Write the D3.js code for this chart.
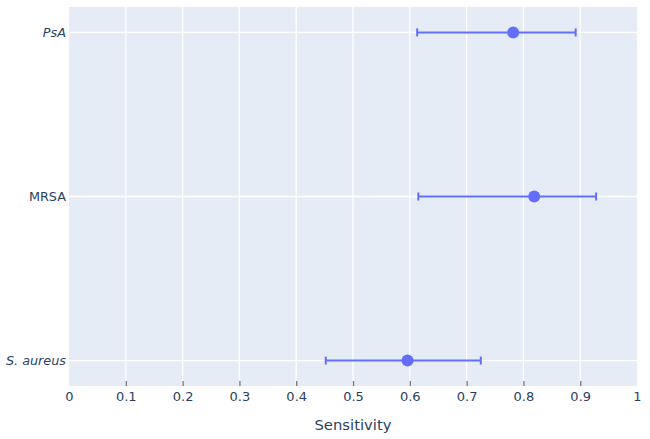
<!DOCTYPE html>
<html>
<head>
<meta charset="utf-8">
<script src="https://cdn.jsdelivr.net/npm/d3@7"></script>
<style>
  html, body { margin: 0; padding: 0; background: #fff; }
  svg { display: block; }
  text { font-family: "DejaVu Sans", sans-serif; }
</style>
</head>
<body>
<svg id="chart" width="650" height="439"></svg>
<script>
// Data
const categories = ["S. aureus", "MRSA", "PsA"];
const italicCats = ["S. aureus", "PsA"];
const sensitivity = [0.596, 0.819, 0.782];
const lowerCI = [0.452, 0.615, 0.613];
const upperCI = [0.725, 0.928, 0.892];
const xTicks = [0, 0.1, 0.2, 0.3, 0.4, 0.5, 0.6, 0.7, 0.8, 0.9, 1];
const xTitle = "Sensitivity";

const W = 650, H = 439;
const m = { left: 69, right: 13, top: 7, bottom: 53 };
const pw = W - m.left - m.right, ph = H - m.top - m.bottom;
const color = "#636efa";
const textColor = "#2a3f5f";
const font = "'DejaVu Sans', sans-serif";

const svg = d3.select("#chart");
const g = svg.append("g").attr("transform", `translate(${m.left},${m.top})`);

const x = d3.scaleLinear().domain([0, 1]).range([0, pw]);
const y = d3.scalePoint().domain(categories).range([ph, 0]).padding(0.155);

g.append("rect").attr("width", pw).attr("height", ph).attr("fill", "#e5ecf6");

// grid
g.selectAll(".xg").data(xTicks.filter(t => t > 0 && t < 1)).enter().append("line")
  .attr("x1", d => x(d)).attr("x2", d => x(d)).attr("y1", 0).attr("y2", ph)
  .attr("stroke", "#fff").attr("stroke-width", 1.3);
g.selectAll(".yg").data(categories).enter().append("line")
  .attr("x1", 0).attr("x2", pw).attr("y1", d => y(d)).attr("y2", d => y(d))
  .attr("stroke", "#fff").attr("stroke-width", 1.3);

// x axis
const xAxis = d3.axisBottom(x).tickValues(xTicks).tickFormat(d => d3.format("")(d)).tickSizeInner(-5).tickSizeOuter(0).tickPadding(6);
const xa = g.append("g").attr("transform", `translate(0,${ph})`).call(xAxis);
xa.select(".domain").remove();
xa.selectAll(".tick line").attr("stroke", "#555").attr("stroke-width", 1.3)
  .attr("opacity", d => (d > 0 && d < 1) ? 0.8 : 0);
xa.selectAll(".tick text").attr("fill", textColor).attr("font-size", 13)
  .attr("font-family", font);

// y axis
const yAxis = d3.axisLeft(y).tickSize(0).tickPadding(3);
const ya = g.append("g").call(yAxis);
ya.select(".domain").remove();
ya.selectAll(".tick text").attr("fill", textColor).attr("font-size", 12.8)
  .attr("font-family", font)
  .attr("font-style", d => italicCats.includes(d) ? "italic" : "normal");

// axis title
svg.append("text").attr("x", m.left + pw / 2).attr("y", 430)
  .attr("text-anchor", "middle").attr("fill", textColor).attr("font-size", 14.8)
  .attr("font-family", font)
  .text(xTitle);

// error bars
const rows = categories.map((c, i) => ({ c, v: sensitivity[i], lo: lowerCI[i], hi: upperCI[i] }));
const eb = g.selectAll(".eb").data(rows).enter().append("g");
eb.append("line").attr("x1", d => x(d.lo)).attr("x2", d => x(d.hi))
  .attr("y1", d => y(d.c)).attr("y2", d => y(d.c))
  .attr("stroke", color).attr("stroke-width", 2);
eb.append("line").attr("x1", d => x(d.lo)).attr("x2", d => x(d.lo))
  .attr("y1", d => y(d.c) - 4).attr("y2", d => y(d.c) + 4)
  .attr("stroke", color).attr("stroke-width", 2);
eb.append("line").attr("x1", d => x(d.hi)).attr("x2", d => x(d.hi))
  .attr("y1", d => y(d.c) - 4).attr("y2", d => y(d.c) + 4)
  .attr("stroke", color).attr("stroke-width", 2);
eb.append("circle").attr("cx", d => x(d.v)).attr("cy", d => y(d.c)).attr("r", 6)
  .attr("fill", color);
</script>
</body>
</html>
